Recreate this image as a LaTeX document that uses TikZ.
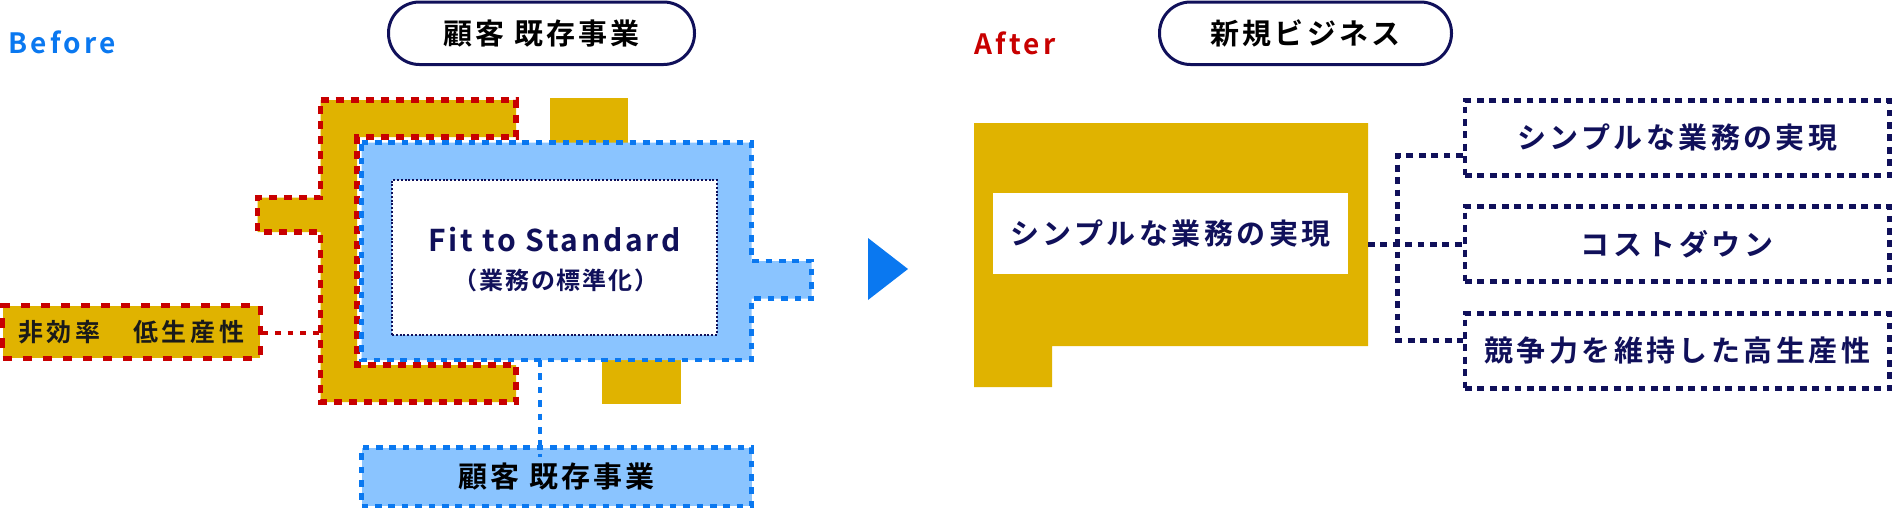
\documentclass[tikz,border=0pt]{standalone}
\usepackage{fontspec}
\setmainfont{Noto Sans CJK JP}[BoldFont={* Bold}]
\newcommand\ftx[2]{\fontsize{#1pt}{#1pt}\selectfont\addfontfeature{LetterSpace=#2}}
\definecolor{cYel}{HTML}{E0B300}
\definecolor{cRed}{HTML}{C80000}
\definecolor{cLBlue}{HTML}{8AC4FF}
\definecolor{cBlue}{HTML}{0A78F0}
\definecolor{cNavy}{HTML}{10105A}
\definecolor{cDark}{HTML}{1A1A1A}
\begin{document}
\begin{tikzpicture}[x=0.5pt,y=-0.5pt,
  txt/.style={inner sep=0pt,font=\bfseries},
  pill/.style={draw=cNavy,line width=1.5pt,rounded corners=15.5pt,fill=white,inner sep=0pt,font=\bfseries,text=black},
  redline/.style={draw=cRed,line width=2.6pt,dash pattern=on 4pt off 3.5pt},
  redline2/.style={draw=cRed,line width=2.5pt,dash pattern=on 4.7pt off 5.3pt},
  redconn/.style={draw=cRed,line width=2.2pt,dash pattern=on 2.8pt off 3.5pt},
  blueline/.style={draw=cBlue,line width=2.4pt,dash pattern=on 3.3pt off 3.4pt},
  navyline/.style={draw=cNavy,line width=2.3pt,dash pattern=on 3.4pt off 2.8pt},
  navybox/.style={navyline,fill=white,inner sep=0pt,minimum width=212.25pt,minimum height=37.5pt,font=\bfseries,text=cNavy},
  blk/.style={fill=cYel,draw=none}
]
\useasboundingbox (0,0) rectangle (1892,509);

% titles
\node[txt,anchor=base west,text=cBlue] (before) at (8,53) {\ftx{14}{12}Before};
\node[txt,anchor=base west,text=cRed] (after) at (974,54) {\ftx{14}{12}After};
\node[pill,minimum width=153pt,minimum height=31.25pt] (pill1) at (541.5,33.25) {\ftx{14.5}{11}顧客 既存事業};
\node[pill,minimum width=146pt,minimum height=31.25pt] (pill2) at (1305.5,33.25) {\ftx{14.5}{11}新規ビジネス};

% Before: plain yellow blocks
\path[blk] (550,98) rectangle (628,143);
\path[blk] (602,359) rectangle (681,404);

% red bordered yellow frame
\path[fill=cYel,redline] (320.5,100) -- (516,100) -- (516,137) -- (357,137) -- (357,365)
  -- (516,365) -- (516,402) -- (320.5,402) -- (320.5,232) -- (257.5,232) -- (257.5,197.5)
  -- (320.5,197.5) -- cycle;
\coordinate (redL) at (320.5,333);

% blue frame with tab
\path[fill=cLBlue,blueline] (361.5,142.5) -- (751.5,142.5) -- (751.5,261) -- (811.5,261)
  -- (811.5,298.5) -- (751.5,298.5) -- (751.5,360) -- (361.5,360) -- cycle;
\coordinate (blueB) at (540,360);

% inner white box
\node[draw=cNavy,line width=0.7pt,dash pattern=on 1pt off 0.9pt,fill=white,inner sep=0pt,
  minimum width=162.5pt,minimum height=77.5pt] (fit) at (554.5,257.5) {};
\node[txt,anchor=base,text=cNavy] (fitA) at (554.5,251) {\ftx{15}{9}Fit to Standard};
\node[txt,text=cNavy] (fitB) at (556,280) {\ftx{12}{8}（業務の標準化）};

% inefficiency box
\node[fill=cYel,redline2,inner sep=0pt,minimum width=128.7pt,minimum height=26.25pt,
  font=\bfseries,text=cDark] (ineff) at (131.3,331.75) {\ftx{12.5}{15}非効率　低生産性};
\draw[redconn] (ineff.east |- redL) -- (redL);

% bottom blue box
\node[fill=cLBlue,blueline,inner sep=0pt,minimum width=195pt,minimum height=29.25pt,
  font=\bfseries,text=black] (bot) at (556.5,476.75) {\ftx{14.5}{11}顧客 既存事業};
\draw[blueline] (blueB) -- ([yshift=-6pt]blueB |- bot.north);

% arrow
\path[fill=cBlue] (868,238) -- (908,269) -- (868,300) -- cycle;

% After shape
\path[blk] (974,123) -- (1368,123) -- (1368,346) -- (1052,346) -- (1052,387) -- (974,387) -- cycle;
\coordinate (aR) at (1368,244.5);
\node[fill=white,inner sep=0pt,minimum width=177.5pt,minimum height=40.5pt,
  font=\bfseries,text=cNavy] (simple) at (1170.5,233.5) {\ftx{14.5}{12}シンプルな業務の実現};

% right boxes
\node[navybox] (r1) at (1677.25,138) {\ftx{14.5}{12}シンプルな業務の実現};
\node[navybox] (r2) at (1677.25,244) {\ftx{14.5}{13}コストダウン};
\node[navybox] (r3) at (1677.25,351) {\ftx{14.5}{12}競争力を維持した高生産性};

\coordinate (j1) at (1397.5,155.5);
\coordinate (j3) at (1397.5,340.5);
\draw[navyline] (j1 -| r1.west) -- (j1) -- (j3) -- (j3 -| r3.west);
\draw[navyline] (aR) -- (aR -| r2.west);
\end{tikzpicture}
\end{document}
